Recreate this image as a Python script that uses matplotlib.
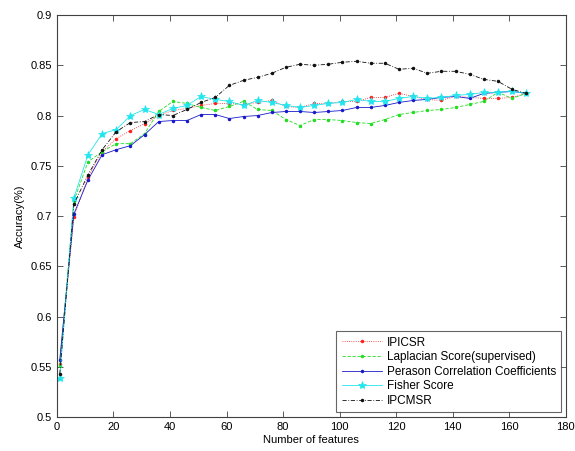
import matplotlib
matplotlib.use("Agg")
import matplotlib.pyplot as plt
from matplotlib.ticker import FuncFormatter

features = list(range(1, 167, 5))

ipicsr = [0.553, 0.699, 0.739, 0.764, 0.777, 0.785, 0.792, 0.800, 0.805, 0.807,
          0.810, 0.812, 0.812, 0.811, 0.813, 0.815, 0.809, 0.808, 0.812, 0.812,
          0.814, 0.814, 0.818, 0.818, 0.822, 0.819, 0.816, 0.815, 0.819, 0.818,
          0.817, 0.817, 0.818, 0.822]
laplacian = [0.551, 0.715, 0.754, 0.764, 0.772, 0.772, 0.782, 0.804, 0.814, 0.812,
             0.808, 0.805, 0.809, 0.814, 0.806, 0.805, 0.796, 0.790, 0.796, 0.796,
             0.795, 0.793, 0.792, 0.796, 0.801, 0.803, 0.805, 0.806, 0.808, 0.811,
             0.814, 0.823, 0.817, 0.822]
pearson = [0.557, 0.702, 0.736, 0.761, 0.766, 0.770, 0.781, 0.794, 0.795, 0.795,
           0.801, 0.801, 0.797, 0.799, 0.800, 0.803, 0.804, 0.804, 0.803, 0.804,
           0.805, 0.808, 0.808, 0.810, 0.813, 0.815, 0.816, 0.818, 0.819, 0.817,
           0.822, 0.823, 0.824, 0.822]
fisher = [0.539, 0.718, 0.761, 0.782, 0.786, 0.800, 0.806, 0.801, 0.807, 0.810,
          0.819, 0.816, 0.814, 0.810, 0.815, 0.813, 0.810, 0.808, 0.810, 0.812,
          0.813, 0.816, 0.814, 0.814, 0.817, 0.819, 0.817, 0.818, 0.820, 0.821,
          0.823, 0.823, 0.824, 0.822]
ipcmsr = [0.543, 0.712, 0.741, 0.766, 0.784, 0.793, 0.794, 0.801, 0.800, 0.806,
          0.813, 0.818, 0.830, 0.835, 0.838, 0.842, 0.848, 0.851, 0.850, 0.851,
          0.853, 0.854, 0.852, 0.852, 0.846, 0.847, 0.842, 0.844, 0.844, 0.841,
          0.836, 0.834, 0.826, 0.822]

labels = ["IPICSR", "Laplacian Score(supervised)", "Perason Correlation Coefficients",
          "Fisher Score", "IPCMSR"]
xticks = [0, 20, 40, 60, 80, 100, 120, 140, 160, 180]
yticks = [0.5, 0.55, 0.6, 0.65, 0.7, 0.75, 0.8, 0.85, 0.9]

plt.rcParams['font.family'] = ['Liberation Sans', 'DejaVu Sans']

fig = plt.figure(figsize=(5.75, 4.51), dpi=100)
ax = fig.add_axes([0.099, 0.0754, 0.885, 0.8913])

lw = 0.6
ms = 3
ax.plot(features, ipicsr, color='#ff2020', linestyle=':', marker='.', markersize=ms,
        linewidth=lw, label=labels[0])
ax.plot(features, laplacian, color='#22dd22', linestyle='--', marker='.', markersize=ms,
        linewidth=lw, label=labels[1], dashes=(4, 2))
ax.plot(features, pearson, color='#1a1acc', linestyle='-', marker='.', markersize=ms,
        linewidth=lw, label=labels[2])
ax.plot(features, fisher, color='#22e5ee', linestyle='-', marker='*', markersize=6,
        markeredgewidth=0.5, linewidth=lw, label=labels[3])
ax.plot(features, ipcmsr, color='#111111', linestyle='-.', marker='.', markersize=ms,
        linewidth=lw, label=labels[4], dashes=(5, 2, 1, 2))

ax.set_xlim(0, 180)
ax.set_ylim(0.5, 0.9)
ax.set_xticks(xticks)
ax.set_yticks(yticks)
ax.yaxis.set_major_formatter(FuncFormatter(lambda v, p: ('%g' % round(v, 2))))

for s in ax.spines.values():
    s.set_color('#404040')
    s.set_linewidth(0.8)
ax.tick_params(direction='in', length=4, width=0.6, colors='#404040',
               labelcolor='black', labelsize=8, top=True, right=True)

ax.set_xlabel("Number of features", fontsize=8, labelpad=2)
ax.set_ylabel("Accuracy(%)", fontsize=8, labelpad=4)

leg = ax.legend(loc='lower right', fontsize=8.5, frameon=True, fancybox=False,
                borderaxespad=0.4, handlelength=3.4, labelspacing=0.22,
                borderpad=0.45, handletextpad=0.4)
leg.get_frame().set_edgecolor('#404040')
leg.get_frame().set_linewidth(0.8)

fig.savefig("out.png", dpi=100)
